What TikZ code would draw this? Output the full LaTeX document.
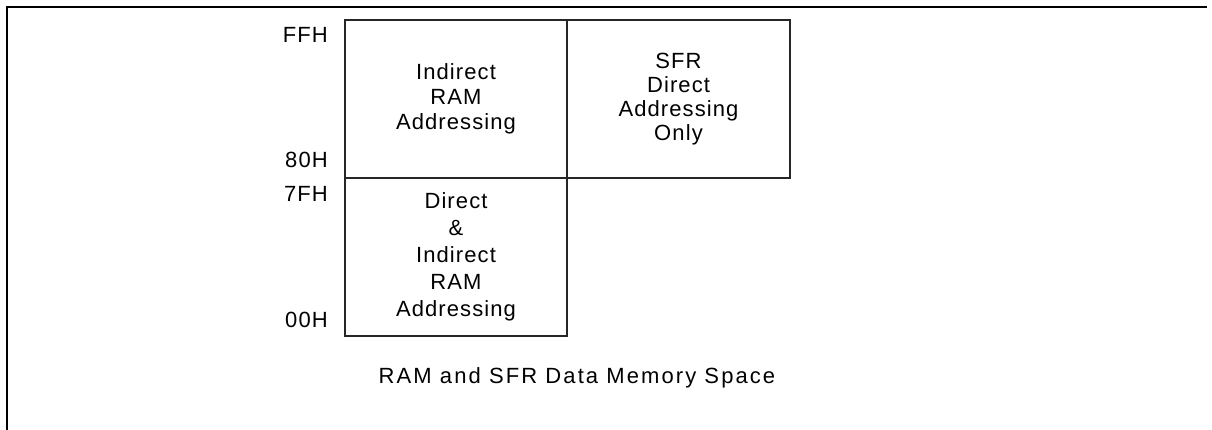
\documentclass[tikz,border=0pt]{standalone}
\usepackage{fontspec}
\setmainfont{Liberation Sans}[LetterSpace=5]
\newfontfamily\capfont{Liberation Sans}[LetterSpace=9.5]
\begin{document}
\begin{tikzpicture}[x=1pt,y=-1pt,
  membox/.style={draw=black!85,line width=1.2pt,rectangle,inner sep=0pt,outer sep=0pt,
    minimum width=222pt,minimum height=158pt,align=center,
    font=\fontsize{22pt}{25pt}\selectfont},
  addr/.style={anchor=east,inner sep=0pt,font=\fontsize{22pt}{25pt}\selectfont}]
\useasboundingbox (0,0) rectangle (1212,430);
\draw[line width=2.6pt] (7,430) -- (7,7) -- (1207,7);
\node[membox] (ind) at (456,99) {Indirect\\RAM\\Addressing};
\node[membox,minimum width=223pt,font=\fontsize{22pt}{24pt}\selectfont] (sfr) at (678.5,99) {SFR\\Direct\\Addressing\\Only};
\node[membox,font=\fontsize{22pt}{27pt}\selectfont] (dir) at (456,257) {Direct\\\&\\Indirect\\RAM\\Addressing};
\node[addr] (ffh) at (328,35) {FFH};
\node[addr] (h80) at (328,160) {80H};
\node[addr] (h7f) at (328,194) {7FH};
\node[addr] (h00) at (328,320) {00H};
\node[inner sep=0pt,font=\capfont\fontsize{22pt}{25pt}\selectfont] (cap) at (577,378) {RAM and SFR Data Memory Space};
\end{tikzpicture}
\end{document}
